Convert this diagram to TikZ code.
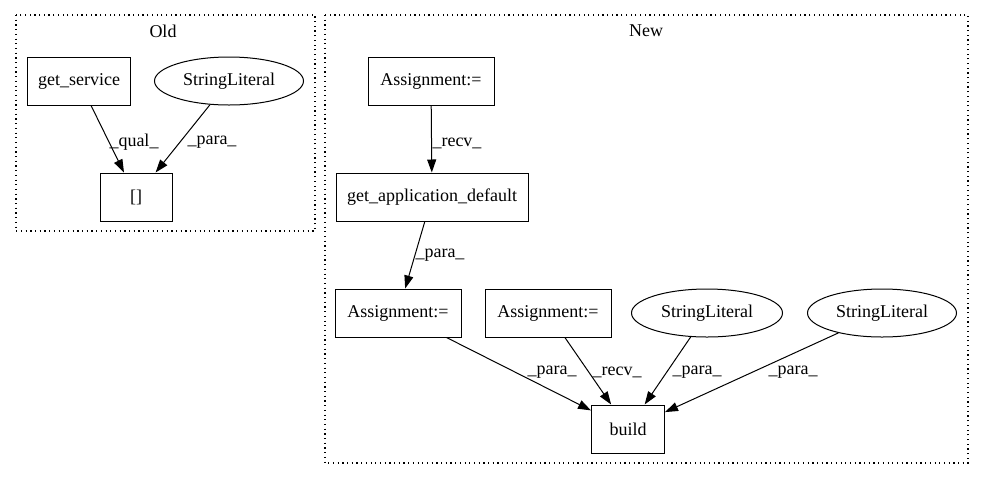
\documentclass[tikz,border=0pt]{standalone}
\usepackage{fontspec}
\setmainfont{Liberation Serif}
\usetikzlibrary{shapes.geometric,arrows.meta}

\tikzset{
  box/.style={draw, line width=1pt, minimum height=48pt, inner sep=0pt, font=\fontsize{18}{20}\selectfont},
  lit/.style={draw, ellipse, line width=1pt, minimum height=48pt, inner sep=0pt, font=\fontsize{18}{20}\selectfont},
  lbl/.style={inner sep=0pt, font=\fontsize{18}{20}\selectfont},
  edge/.style={-{Triangle[length=13pt,width=9pt]}, line width=1pt},
  cluster/.style={dash pattern=on 1.2pt off 3.5pt, line width=1.2pt}
}

\begin{document}
\begin{tikzpicture}[x=1pt,y=-1pt]
\useasboundingbox (0,0) rectangle (984,480);
% clusters
\draw [cluster] (16,15) rectangle (315,231); \node [lbl] (told) at (163,31) {Old};
\draw [cluster] (325,15) rectangle (968,463); \node [lbl] (tnew) at (646,31) {New};
% old
\node [box, minimum width=103pt] (gs) at (79,81) {get\_service};
\node [lit, minimum width=149pt] (sl1) at (229,81) {StringLiteral};
\node [box, minimum width=72pt] (sq) at (136,197) {[]};
% new
\node [box, minimum width=126pt] (a1) at (431,81) {Assignment:=};
\node [box, minimum width=192pt] (gad) at (432,197) {get\_application\_default};
\node [box, minimum width=126pt] (a2) at (398,313) {Assignment:=};
\node [box, minimum width=126pt] (a3) at (548,313) {Assignment:=};
\node [lit, minimum width=151pt] (sl2) at (707,313) {StringLiteral};
\node [lit, minimum width=149pt] (sl3) at (882,313) {StringLiteral};
\node [box, minimum width=73pt] (build) at (628,429) {build};
% edges
\draw [edge] (gs) -- (sq); \node [lbl] (l1) at (134,142) {\_qual\_};
\draw [edge] (sl1) -- (sq); \node [lbl] (l2) at (212,142) {\_para\_};
\draw [edge] (a1) -- (gad); \node [lbl] (l3) at (457,143) {\_recv\_};
\draw [edge] (gad) -- (a2); \node [lbl] (l4) at (440,255) {\_para\_};
\draw [edge] (a2) -- (build); \node [lbl] (l5) at (552,372) {\_para\_};
\draw [edge] (a3) -- (build); \node [lbl] (l6) at (617,372) {\_recv\_};
\draw [edge] (sl2) -- (build); \node [lbl] (l7) at (697,372) {\_para\_};
\draw [edge] (sl3) -- (build); \node [lbl] (l8) at (793,372) {\_para\_};
\end{tikzpicture}
\end{document}
